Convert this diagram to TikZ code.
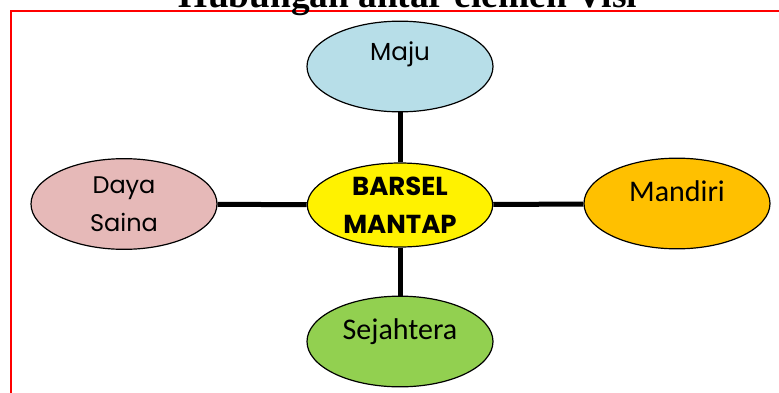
\documentclass[tikz,border=0pt]{standalone}
\usepackage{fontspec}
\usepackage{xcolor}
\usetikzlibrary{shapes.geometric}
\newfontfamily\gothicfont{Poppins}
\newfontfamily\calibfont{Carlito}
\newfontfamily\headfont{Liberation Serif}

\definecolor{majublue}{HTML}{B7DEE8}
\definecolor{dayapink}{HTML}{E6B9B8}
\definecolor{mandiriorange}{HTML}{FFC000}
\definecolor{sejahteragreen}{HTML}{92D050}

\begin{document}
\begin{tikzpicture}[
  x=0.75pt, y=-0.75pt,
  elem/.style={draw, ellipse, line width=0.9pt, inner sep=0pt,
               minimum width=139.5pt, minimum height=68pt, align=center},
  link/.style={line width=3.75pt}
]
\useasboundingbox (0,0) rectangle (779,393);
\clip (0,0) rectangle (779,393);

% frame and title
\draw[red, line width=1.6pt] (800,11) -| (11,420);
\node (title) [anchor=base, inner sep=0pt] at (408,7)
  {\headfont\bfseries\fontsize{28}{30}\selectfont Hubungan antar elemen Visi};

% elements of the vision
\node (barsel)    [elem, fill=yellow, minimum width=139pt, minimum height=63pt,
                   font=\gothicfont\bfseries\fontsize{19.5}{28.5}\selectfont] at (400,205) {BARSEL\\MANTAP};
\node (maju)      [elem, fill=majublue, text height=13pt, text depth=22pt,
                   font=\gothicfont\fontsize{18.5}{20}\selectfont] at (400,66.5) {Maju};
\node (daya)      [elem, fill=dayapink,
                   font=\gothicfont\fontsize{18}{28.5}\selectfont] at (124,204) {Daya\\Saina};
\node (mandiri)   [elem, fill=mandiriorange, text height=15pt, text depth=18pt,
                   font=\calibfont\fontsize{22.5}{25}\selectfont] at (677,203.5) {Mandiri};
\node (sejahtera) [elem, fill=sejahteragreen, text height=15pt, text depth=18.5pt,
                   font=\calibfont\fontsize{22.5}{25}\selectfont] at (400,341.5) {Sejahtera};

\draw[link] (maju) -- (barsel);
\draw[link] (barsel) -- (sejahtera);
\draw[link] (daya) -- (barsel);
\draw[link] (barsel) -- (mandiri);
\end{tikzpicture}
\end{document}
